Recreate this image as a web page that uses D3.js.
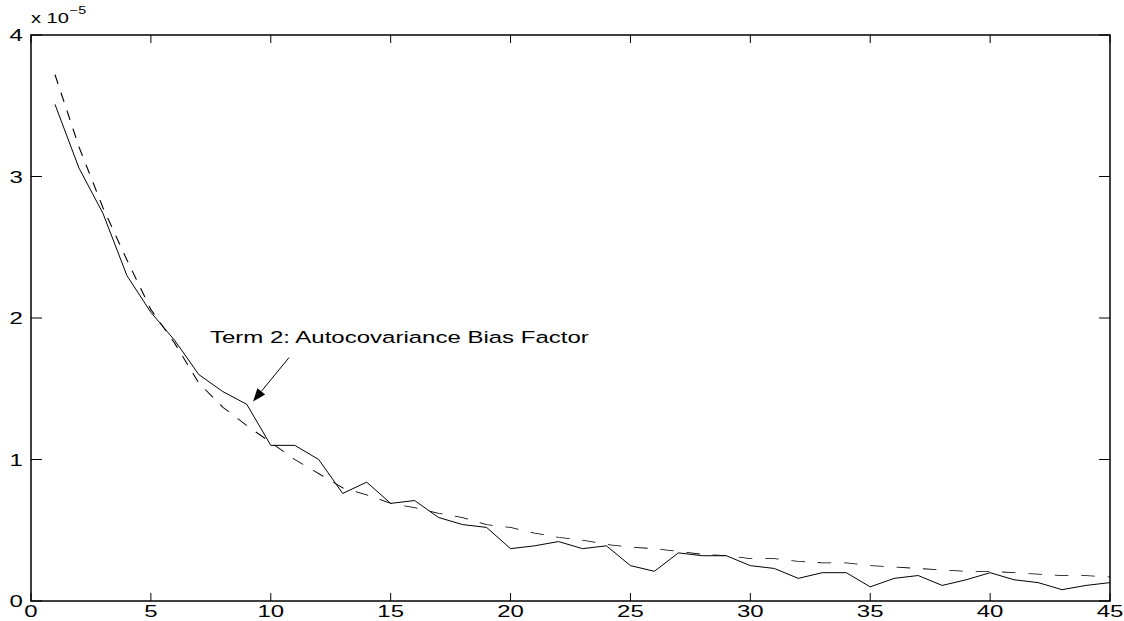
<!DOCTYPE html>
<html>
<head>
<meta charset="utf-8">
<script src="https://cdn.jsdelivr.net/npm/d3@7"></script>
<style>
  body { margin: 0; background: #fff; }
  text { font-family: "Liberation Sans", Arial, Helvetica, sans-serif; fill: #000; }
</style>
</head>
<body>
<svg id="chart" width="1124" height="621"></svg>
<script>
// lag index, measured term and the fitted (dashed) curve, units of 1e-5
var lags = [1,2,3,4,5,6,7,8,9,10,11,12,13,14,15,16,17,18,19,20,21,22,23,
            24,25,26,27,28,29,30,31,32,33,34,35,36,37,38,39,40,41,42,43,44,45];
var measured = [3.51,3.06,2.74,2.30,2.04,1.84,1.60,1.48,1.39,1.10,1.10,1.00,0.76,0.84,0.69,
                0.71,0.59,0.54,0.52,0.37,0.39,0.42,0.37,0.39,0.25,0.21,0.34,0.32,0.32,0.25,
                0.23,0.16,0.20,0.20,0.10,0.16,0.18,0.11,0.15,0.20,0.15,0.13,0.08,0.11,0.13];
var fitted = [3.72,3.21,2.78,2.41,2.06,1.82,1.54,1.37,1.24,1.12,1.00,0.90,0.80,0.75,0.69,
              0.66,0.62,0.59,0.54,0.52,0.48,0.45,0.43,0.40,0.38,0.37,0.35,0.33,0.32,0.30,
              0.30,0.28,0.27,0.27,0.25,0.24,0.23,0.22,0.21,0.21,0.20,0.19,0.18,0.18,0.17];
var xTicks = [0,5,10,15,20,25,30,35,40,45];
var yTicks = [0,1,2,3,4];
var note = "Term 2: Autocovariance Bias Factor";
var arrowFrom = [10.76, 1.72], arrowTo = [9.26, 1.41];

var plotL = 31, plotR = 1110, plotT = 35, plotB = 601,
    stretch = 1.43,   // the figure was widened, text and dashes are wider than tall
    fontSize = 16.8;

var svg = d3.select("#chart");
var x = d3.scaleLinear().domain([0, 45]).range([plotL, plotR]);
var y = d3.scaleLinear().domain([0, 4]).range([plotB, plotT]);

// widen a text node the same way as the picture
function widen(sel) {
  sel.each(function() {
    var w = this.getComputedTextLength();
    d3.select(this).attr("textLength", w * stretch).attr("lengthAdjust", "spacingAndGlyphs");
  });
}

// frame
svg.append("rect")
  .attr("x", plotL).attr("y", plotT)
  .attr("width", plotR - plotL).attr("height", plotB - plotT)
  .attr("fill", "none").attr("stroke", "#000").attr("stroke-width", 1.5);

// ticks, inside, on all four sides
var ticks = svg.append("g").attr("stroke", "#000").attr("stroke-width", 1);
xTicks.forEach(function(t) {
  ticks.append("line").attr("x1", x(t)).attr("x2", x(t)).attr("y1", plotB).attr("y2", plotB - 8);
  ticks.append("line").attr("x1", x(t)).attr("x2", x(t)).attr("y1", plotT).attr("y2", plotT + 8);
});
yTicks.forEach(function(t) {
  ticks.append("line").attr("y1", y(t)).attr("y2", y(t)).attr("x1", plotL).attr("x2", plotL + 11);
  ticks.append("line").attr("y1", y(t)).attr("y2", y(t)).attr("x1", plotR).attr("x2", plotR - 11);
});

svg.selectAll(".xl").data(xTicks).enter().append("text")
  .attr("class", "xl")
  .attr("x", function(d) { return x(d); })
  .attr("y", plotB + 16)
  .attr("text-anchor", "middle")
  .style("font-size", fontSize + "px")
  .text(function(d) { return d; })
  .call(widen);

svg.selectAll(".yl").data(yTicks).enter().append("text")
  .attr("class", "yl")
  .attr("x", plotL - 8)
  .attr("y", function(d) { return y(d) + 6; })
  .attr("text-anchor", "end")
  .style("font-size", fontSize + "px")
  .text(function(d) { return d; })
  .call(widen);

// exponent label
var expo = svg.append("text").attr("x", plotL).attr("y", 23).style("font-size", "14px");
expo.append("tspan").text("x 10");
var expoW = expo.node().getComputedTextLength() * stretch;
expo.call(widen);
svg.append("text").attr("x", plotL + expoW + 1).attr("y", 14).style("font-size", "10px")
  .text("\u22125").call(widen);

// measured series, solid
var line = d3.line()
  .x(function(d, i) { return x(lags[i]); })
  .y(function(d) { return y(d); });
svg.append("path").datum(measured)
  .attr("d", line)
  .attr("fill", "none").attr("stroke", "#000").attr("stroke-width", 1);

// fitted series, dashed; drawn in a squeezed frame so the dashes stretch like the picture
var xq = d3.scaleLinear().domain([0, 45]).range([plotL / stretch, plotR / stretch]);
svg.append("g").attr("transform", "scale(" + stretch + ",1)")
  .append("path").datum(fitted)
  .attr("d", d3.line()
    .x(function(d, i) { return xq(lags[i]); })
    .y(function(d) { return y(d); }))
  .attr("fill", "none").attr("stroke", "#000").attr("stroke-width", 0.8)
  .attr("stroke-dasharray", "9.5,9");

// annotation with arrow
svg.append("text").attr("x", 210).attr("y", 343)
  .style("font-size", fontSize + "px")
  .text(note).call(widen);

var ax0 = x(arrowFrom[0]), ay0 = y(arrowFrom[1]),
    ax1 = x(arrowTo[0]), ay1 = y(arrowTo[1]);
var ang = Math.atan2(ay1 - ay0, ax1 - ax0), headLen = 13, headHalf = 5;
var bx = ax1 - headLen * Math.cos(ang), by = ay1 - headLen * Math.sin(ang);
svg.append("line")
  .attr("x1", ax0).attr("y1", ay0).attr("x2", bx).attr("y2", by)
  .attr("stroke", "#000").attr("stroke-width", 1);
svg.append("polygon")
  .attr("points", [
    [ax1, ay1],
    [bx + headHalf * Math.sin(ang), by - headHalf * Math.cos(ang)],
    [bx - headHalf * Math.sin(ang), by + headHalf * Math.cos(ang)]
  ].map(function(p) { return p.join(","); }).join(" "))
  .attr("fill", "#000");
</script>
</body>
</html>
